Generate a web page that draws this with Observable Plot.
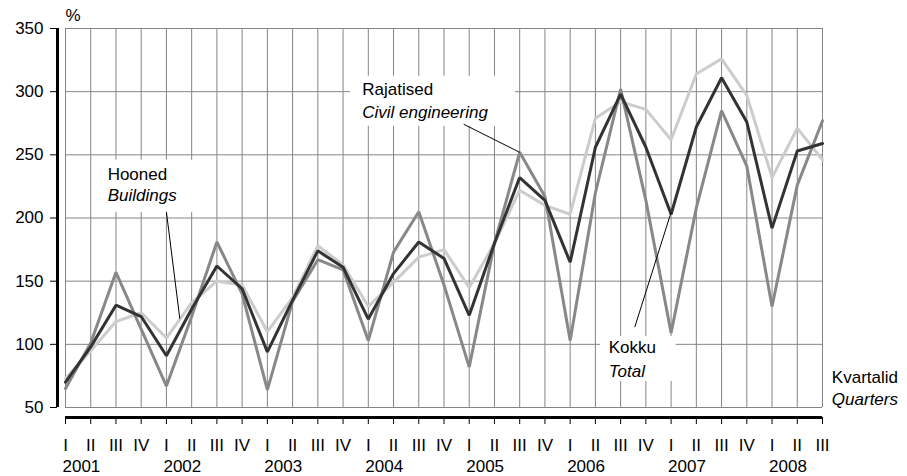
<!DOCTYPE html>
<html>
<head>
<meta charset="utf-8">
<script src="https://cdn.jsdelivr.net/npm/d3@7"></script>
<script src="https://cdn.jsdelivr.net/npm/@observablehq/plot@0.6"></script>
<style>
  html, body { margin: 0; padding: 0; background: #fff; }
  #chart svg { display: block; }
</style>
</head>
<body>
<div id="chart"></div>
<script>
// Quarter labels and years
const romans = ["I", "II", "III", "IV"];
const years = ["2001", "2002", "2003", "2004", "2005", "2006", "2007", "2008"];
// Series values, 2001 Q1 .. 2008 Q3 (31 quarters), %
const total =     [70, 98, 131, 122, 91, 128, 162, 144, 94, 135, 174, 161, 120, 156, 181, 168, 123, 180, 232, 214, 165, 256, 298, 256, 203, 272, 311, 276, 192, 253, 259];
const buildings = [73, 95, 118, 125, 105, 133, 150, 147, 110, 137, 178, 163, 130, 149, 169, 175, 145, 180, 222, 210, 203, 279, 292, 286, 262, 314, 326, 297, 232, 271, 246];
const civil =     [65, 101, 157, 112, 67, 122, 181, 140, 64, 134, 167, 159, 103, 173, 205, 147, 82, 180, 252, 217, 103, 220, 302, 214, 109, 208, 285, 241, 130, 226, 277];
const yTicks = [50, 100, 150, 200, 250, 300, 350];

const idx = d3.range(total.length);
const rows = (arr) => arr.map((v, i) => ({i, v}));

const font = "'Liberation Sans', Arial, sans-serif";
const fs = 17;

// Annotations (positions in data units: quarter index, %)
const notes = [
  {line1: "Hooned", line2: "Buildings", x: 1.67, y1: 229.8, y2: 213.5, box: [1.39, 5.35, 245.7, 204.5], link: [4.0, 204.7, 4.53, 120.3]},
  {line1: "Rajatised", line2: "Civil engineering", x: 11.76, y1: 297.2, y2: 279, box: [11.3, 17.84, 312.2, 272.6], link: [15.78, 274.2, 18.0, 252]},
  {line1: "Kokku", line2: "Total", x: 21.53, y1: 92.8, y2: 74, box: [21.2, 24.2, 106.2, 70.6], link: [22.56, 113.6, 24.0, 204.5]}
];

const chart = Plot.plot({
  width: 907,
  height: 476,
  marginLeft: 65,
  marginRight: 85,
  marginTop: 28,
  marginBottom: 69,
  style: {fontFamily: font, fontSize: fs + "px", color: "#000", background: "#fff"},
  x: {domain: [0, 30], axis: null},
  y: {domain: [50, 350], axis: null},
  marks: [
    Plot.gridX(idx, {stroke: "#858585", strokeOpacity: 1, strokeWidth: 1}),
    Plot.gridY(yTicks, {stroke: "#858585", strokeOpacity: 1, strokeWidth: 1}),
    // annotation white boxes
    Plot.rect(notes, {x1: d => d.box[0], x2: d => d.box[1], y1: d => d.box[2], y2: d => d.box[3], fill: "#fff"}),
    // series
    Plot.line(rows(buildings), {x: "i", y: "v", stroke: "#cccccc", strokeWidth: 3, strokeLinejoin: "miter"}),
    Plot.line(rows(civil), {x: "i", y: "v", stroke: "#888888", strokeWidth: 3, strokeLinejoin: "miter"}),
    Plot.line(rows(total), {x: "i", y: "v", stroke: "#333333", strokeWidth: 3, strokeLinejoin: "miter"}),
    // leader lines
    Plot.link(notes, {x1: d => d.link[0], y1: d => d.link[1], x2: d => d.link[2], y2: d => d.link[3], stroke: "#000", strokeWidth: 1}),
    Plot.text(notes, {x: "x", y: "y1", text: "line1", textAnchor: "start", lineAnchor: "bottom", fontSize: fs, fill: "#000"}),
    Plot.text(notes, {x: "x", y: "y2", text: "line2", textAnchor: "start", lineAnchor: "bottom", fontSize: fs, fontStyle: "italic", fill: "#000"}),
    // axis title texts
    Plot.text(["Kvartalid"], {x: 30.37, y: 69, textAnchor: "start", lineAnchor: "bottom", fontSize: fs, fill: "#000"}),
    Plot.text(["Quarters"], {x: 30.37, y: 51.6, textAnchor: "start", lineAnchor: "bottom", fontSize: fs, fontStyle: "italic", fill: "#000"}),
    Plot.text(["%"], {frameAnchor: "top-left", lineAnchor: "bottom", textAnchor: "start", dy: -8, fontSize: fs, fill: "#000"}),
    // axes
    Plot.ruleX([0], {y1: 50, y2: 350, dx: -8, stroke: "#000", strokeWidth: 3}),
    Plot.axisY({ticks: yTicks, tickSize: 7, tickPadding: 7, dx: -8, label: null, fontSize: fs, stroke: "#000"}),
    Plot.ruleY([50], {x1: 0, x2: 30, dy: 10, stroke: "#000", strokeWidth: 3}),
    Plot.axisX({ticks: idx, tickFormat: i => romans[i % 4], tickSize: 7, tickPadding: 14, dy: 10, label: null, fontSize: fs, stroke: "#000"}),
    Plot.text(years, {x: (d, k) => k * 4, text: d => d, frameAnchor: "bottom", lineAnchor: "bottom", textAnchor: "start", dx: -3, dy: 64, fontSize: fs, fill: "#000"})
  ]
});

document.getElementById("chart").appendChild(chart);
</script>
</body>
</html>
